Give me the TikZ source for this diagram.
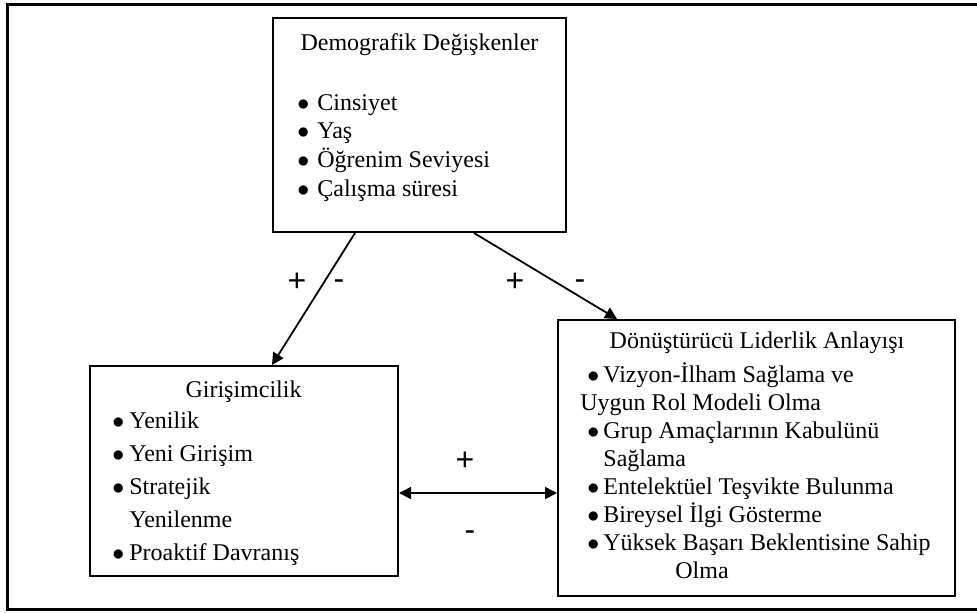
\documentclass[tikz,border=0pt]{standalone}
\usepackage{fontspec}
\setmainfont{Liberation Serif}
\newfontfamily\arialfont{Liberation Sans}
\usetikzlibrary{arrows.meta, positioning, calc}

\newcommand{\bul}[1]{\makebox[#1][l]{$\bullet$}}

\begin{document}
\begin{tikzpicture}[
    x=0.5pt, y=-0.5pt,
    box/.style={rectangle, draw, line width=1pt, inner sep=0pt},
    ttl/.style={inner sep=0pt, font=\fontsize{12}{14}\selectfont},
    txt/.style={inner sep=0pt, align=left, anchor=north west},
    sign/.style={inner sep=0pt, font=\arialfont\fontsize{16}{18}\selectfont},
    line/.style={draw, line width=0.9pt, -{Triangle[length=6pt, width=6pt]}},
    dline/.style={draw, line width=0.9pt, {Triangle[length=6pt, width=6pt]}-{Triangle[length=6pt, width=6pt]}}
]
    \useasboundingbox (0,0) rectangle (977,612);
    % Outer frame
    \draw[line width=1.5pt] (7.5,4) rectangle (990,609);

    % Demographic variables (top)
    \node (demo) [box, minimum width=146.5pt, minimum height=107pt] at (419.5,125) {};
    \node (demoT) [ttl] at (419.5,45) {Demografik Değişkenler};
    \node (demoL) [txt, font=\fontsize{12}{14.3}\selectfont] at (297,94)
        {\bul{10pt}Cinsiyet\\ \bul{10pt}Yaş\\ \bul{10pt}Öğrenim Seviyesi\\ \bul{10pt}Çalışma süresi};

    % Entrepreneurship (left)
    \node (girisim) [box, minimum width=154pt, minimum height=105pt] at (244,471) {};
    \node (girisimT) [ttl] at (243.5,392) {Girişimcilik};
    \node (girisimL) [txt, font=\fontsize{12}{16.5}\selectfont] at (112,411)
        {\bul{8.5pt}Yenilik\\ \bul{8.5pt}Yeni Girişim\\ \bul{8.5pt}Stratejik\\ \hspace*{8.5pt}Yenilenme\\ \bul{8.5pt}Proaktif Davranış};

    % Transformational leadership (right)
    \node (donus) [box, minimum width=198.5pt, minimum height=138pt] at (756.5,458) {};
    \node (donusT) [ttl] at (757,343) {Dönüştürücü Liderlik Anlayışı};
    \node (donusL) [txt, font=\fontsize{12}{14}\selectfont] at (580,362)
        {\hspace*{3.5pt}\bul{8pt}Vizyon-İlham Sağlama ve\\
         Uygun Rol Modeli Olma\\
         \hspace*{3.5pt}\bul{8pt}Grup Amaçlarının Kabulünü\\
         \hspace*{11.5pt}Sağlama\\
         \hspace*{3.5pt}\bul{8pt}Entelektüel Teşvikte Bulunma\\
         \hspace*{3.5pt}\bul{8pt}Bireysel İlgi Gösterme\\
         \hspace*{3.5pt}\bul{8pt}Yüksek Başarı Beklentisine Sahip\\
         \hspace*{47.5pt}Olma};

    % Arrows
    \path [line] ($(demo.south)+(-64.5,0)$) -- ($(girisim.north)+(28,0)$);
    \path [line] ($(demo.south)+(54.5,0)$) -- ($(donus.north)+(-139.5,0)$);
    \path [dline] ($(girisim.east)+(0,22)$) -- ($(donus.west)+(0,35)$);

    % Signs
    \node (plusA) [sign] at (297,282) {+};
    \node (minusA) [sign] at (339,285) {-};
    \node (plusB) [sign] at (515,282) {+};
    \node (minusB) [sign] at (580,285) {-};
    \node (plusC) [sign] at (465,461) {+};
    \node (minusC) [sign] at (470,536) {-};

\end{tikzpicture}
\end{document}
